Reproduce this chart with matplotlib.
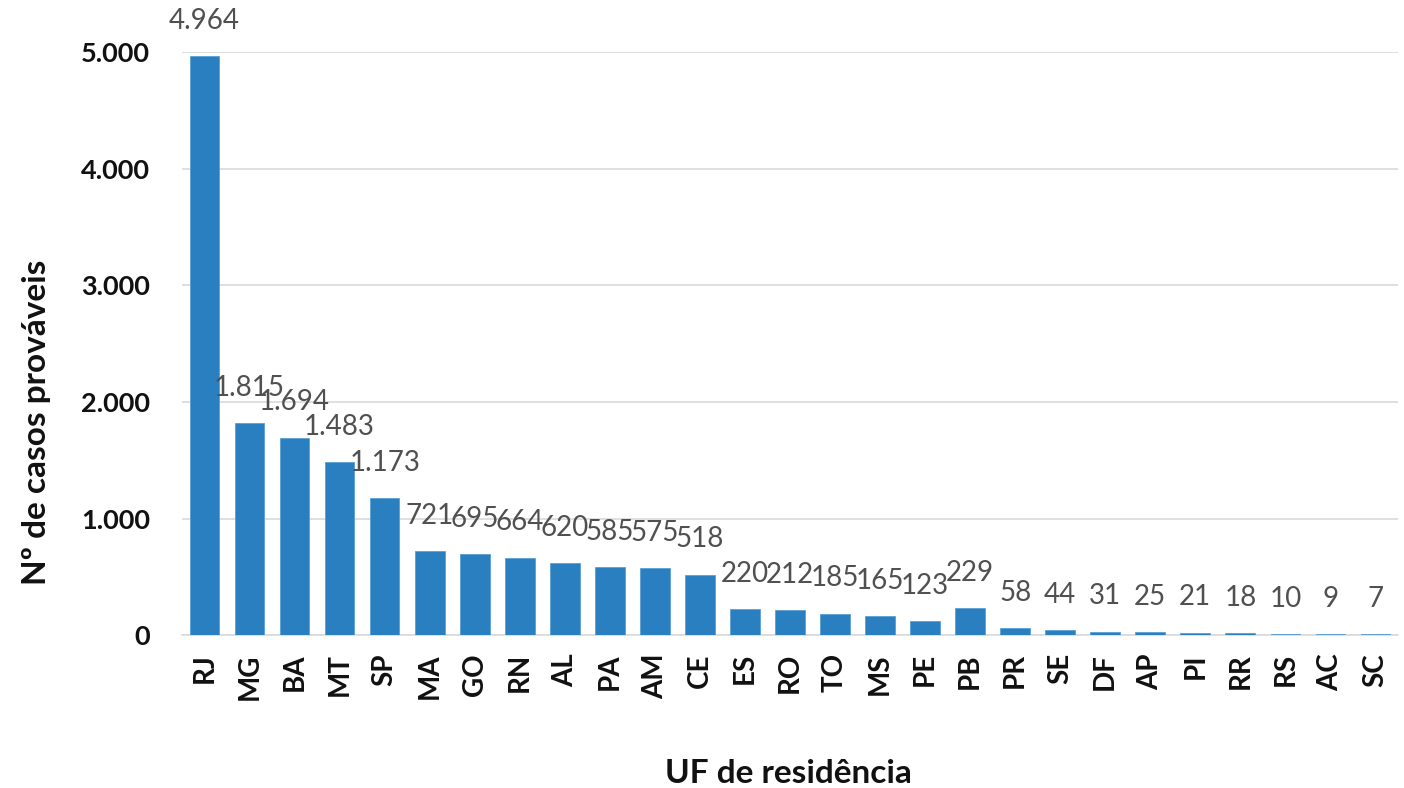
import matplotlib
matplotlib.use("Agg")
import matplotlib.pyplot as plt
from matplotlib.ticker import FuncFormatter

# UF de residência e nº de casos prováveis
ufs = ["RJ", "MG", "BA", "MT", "SP", "MA", "GO", "RN", "AL", "PA", "AM", "CE", "ES",
       "RO", "TO", "MS", "PE", "PB", "PR", "SE", "DF", "AP", "PI", "RR", "RS", "AC", "SC"]
casos = [4964, 1815, 1694, 1483, 1173, 721, 695, 664, 620, 585, 575, 518, 220,
         212, 185, 165, 123, 229, 58, 44, 31, 25, 21, 18, 10, 9, 7]
yticks = [0, 1000, 2000, 3000, 4000, 5000]

plt.rcParams['font.family'] = ['Lato', 'DejaVu Sans']

fig = plt.figure(figsize=(14.04, 7.88), dpi=100)
ax = fig.add_axes([0.1296, 0.194, 0.8661, 0.740])

x = range(len(ufs))
bars = ax.bar(x, casos, width=0.66, color='#2a7fc0', edgecolor='#5aa0d6', linewidth=0.6, zorder=3)

def milhar(v):
    return f"{int(v):,}".replace(",", ".")

for b, v in zip(bars, casos):
    ax.annotate(milhar(v), (b.get_x() + b.get_width() / 2, v), xytext=(0, 16),
                textcoords='offset points', ha='center', va='bottom',
                fontsize=20, color='#505050', annotation_clip=False, zorder=4)

ax.set_xlim(-0.5, len(ufs) - 0.5)
ax.set_ylim(0, 5000)
ax.set_yticks(yticks)
ax.yaxis.set_major_formatter(FuncFormatter(lambda v, p: milhar(v)))
ax.set_xticks(list(x))
ax.set_xticklabels(ufs, rotation=90, fontsize=20, fontweight='bold', color='#111111')
for lab in ax.get_yticklabels():
    lab.set_fontsize(19.5)
    lab.set_fontweight('bold')
    lab.set_color('#111111')

ax.grid(axis='y', color='#d9d9d9', linewidth=1.2, zorder=0)
for s in ['top', 'right', 'left']:
    ax.spines[s].set_visible(False)
ax.spines['bottom'].set_color('#d9d9d9')
ax.spines['bottom'].set_linewidth(1.2)
ax.tick_params(axis='x', length=0, pad=13)
ax.tick_params(axis='y', length=0, pad=23)

ax.set_ylabel("Nº de casos prováveis", fontsize=24, fontweight='bold', va='center', color='#111111')
ax.yaxis.set_label_coords(-0.120, 0.365)
ax.set_xlabel("UF de residência", fontsize=24, fontweight='bold', va='center', color='#111111')
ax.xaxis.set_label_coords(0.499, -0.237)

fig.savefig("out.png", dpi=100)
